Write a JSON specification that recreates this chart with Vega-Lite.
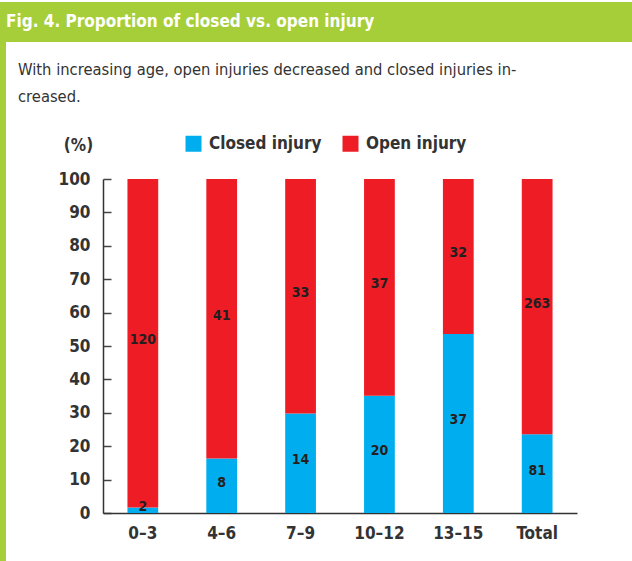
{
  "$schema": "https://vega.github.io/schema/vega-lite/v6.json",
  "padding": {"top": 2, "left": 0, "right": 0, "bottom": 0},
  "background": "white",
  "spacing": 0,
  "config": {
    "font": "DejaVu Sans Condensed, Open Sans, sans-serif",
    "view": {"stroke": null},
    "axisY": {
      "titleAngle": 0,
      "titleX": -25,
      "titleY": -34,
      "titleAlign": "center",
      "titleBaseline": "middle",
      "titleFontSize": 17,
      "titleFontWeight": "bold",
      "titleColor": "#333333",
      "values": [0, 10, 20, 30, 40, 50, 60, 70, 80, 90, 100],
      "labelOverlap": false,
      "grid": true,
      "gridDash": [8, 2000],
      "gridColor": "#444444",
      "gridWidth": 1.5,
      "gridOpacity": 1,
      "ticks": false,
      "labelPadding": 13,
      "labelFontSize": 17,
      "labelFontWeight": "bold",
      "labelColor": "#333333",
      "domainColor": "#333333",
      "domainWidth": 1.5
    }
  },
  "hconcat": [
    {
      "width": 6,
      "height": 559,
      "view": {"fill": "#a6ce39", "stroke": null},
      "data": {"values": []},
      "mark": {"type": "point", "opacity": 0},
      "encoding": {}
    },
    {
      "spacing": 0,
      "vconcat": [
        {
          "width": 626,
          "height": 40,
          "view": {"fill": "#a6ce39", "stroke": null},
          "title": {
            "text": "Fig. 4. Proportion of closed vs. open injury",
            "anchor": "start",
            "frame": "group",
            "baseline": "top",
            "dx": 0,
            "offset": -29,
            "color": "white",
            "fontSize": 17,
            "fontWeight": "bold"
          },
          "data": {"values": []},
          "mark": {"type": "point", "opacity": 0},
          "encoding": {}
        },
        {
          "spacing": 11,
          "hconcat": [
            {
              "width": 1,
              "height": 1,
              "data": {"values": []},
              "mark": {"type": "point", "opacity": 0},
              "encoding": {}
            },
            {
              "width": 474,
              "height": 334,
              "title": {
                "text": " ",
                "fontSize": 10,
                "subtitle": ["With increasing age, open injuries decreased and closed injuries in-", "creased."],
                "subtitlePadding": 9,
                "anchor": "start",
                "frame": "group",
                "baseline": "top",
                "dx": -85,
                "offset": 31,
                "subtitleLineHeight": 27,
                "subtitleColor": "#333333",
                "subtitleFontSize": 16.4,
                "subtitleFontWeight": "normal"
              },
              "data": {
                "values": [
                  {"age": "0–3", "type": "Closed injury", "n": 2},
                  {"age": "0–3", "type": "Open injury", "n": 120},
                  {"age": "4–6", "type": "Closed injury", "n": 8},
                  {"age": "4–6", "type": "Open injury", "n": 41},
                  {"age": "7–9", "type": "Closed injury", "n": 14},
                  {"age": "7–9", "type": "Open injury", "n": 33},
                  {"age": "10–12", "type": "Closed injury", "n": 20},
                  {"age": "10–12", "type": "Open injury", "n": 37},
                  {"age": "13–15", "type": "Closed injury", "n": 37},
                  {"age": "13–15", "type": "Open injury", "n": 32},
                  {"age": "Total", "type": "Closed injury", "n": 81},
                  {"age": "Total", "type": "Open injury", "n": 263}
                ]
              },
              "transform": [
                {"stack": "n", "groupby": ["age"], "offset": "normalize", "sort": [{"field": "type", "order": "ascending"}], "as": ["s0", "s1"]},
                {"calculate": "datum.s0 * 100", "as": "p0"},
                {"calculate": "datum.s1 * 100", "as": "p1"},
                {"calculate": "(datum.s0 + datum.s1) * 50", "as": "mid"}
              ],
              "encoding": {
                "x": {
                  "field": "age",
                  "type": "nominal",
                  "sort": null,
                  "scale": {"paddingInner": 0.61, "paddingOuter": 0.31},
                  "axis": {
                    "title": null,
                    "labelAngle": 0,
                    "ticks": false,
                    "grid": false,
                    "labelPadding": 12,
                    "labelFontSize": 17,
                    "labelFontWeight": "bold",
                    "labelColor": "#333333",
                    "domainColor": "#333333",
                    "domainWidth": 1.5
                  }
                }
              },
              "layer": [
                {
                  "mark": {"type": "bar"},
                  "encoding": {
                    "y": {
                      "field": "p0",
                      "type": "quantitative",
                      "scale": {"domain": [0, 100]},
                      "axis": {"title": "(%)"}
                    },
                    "y2": {"field": "p1"},
                    "color": {
                      "field": "type",
                      "type": "nominal",
                      "scale": {"domain": ["Closed injury", "Open injury"], "range": ["#00aeef", "#ee1c25"]},
                      "legend": {
                        "title": null,
                        "orient": "none",
                        "direction": "horizontal",
                        "legendX": 185,
                        "legendY": 133,
                        "symbolType": "square",
                        "symbolSize": 256,
                        "symbolStrokeWidth": 0,
                        "symbolOpacity": 1,
                        "labelOffset": 7,
                        "columnPadding": 20,
                        "labelFontSize": 17,
                        "labelFontWeight": "bold",
                        "labelColor": "#333333"
                      }
                    }
                  }
                },
                {
                  "mark": {"type": "text", "fontSize": 14, "fontWeight": "bold", "color": "#231f20", "baseline": "middle", "dy": -3},
                  "encoding": {
                    "y": {"field": "mid", "type": "quantitative", "axis": {"title": "(%)"}},
                    "text": {"field": "n", "type": "quantitative"}
                  }
                }
              ]
            }
          ]
        }
      ]
    }
  ]
}
